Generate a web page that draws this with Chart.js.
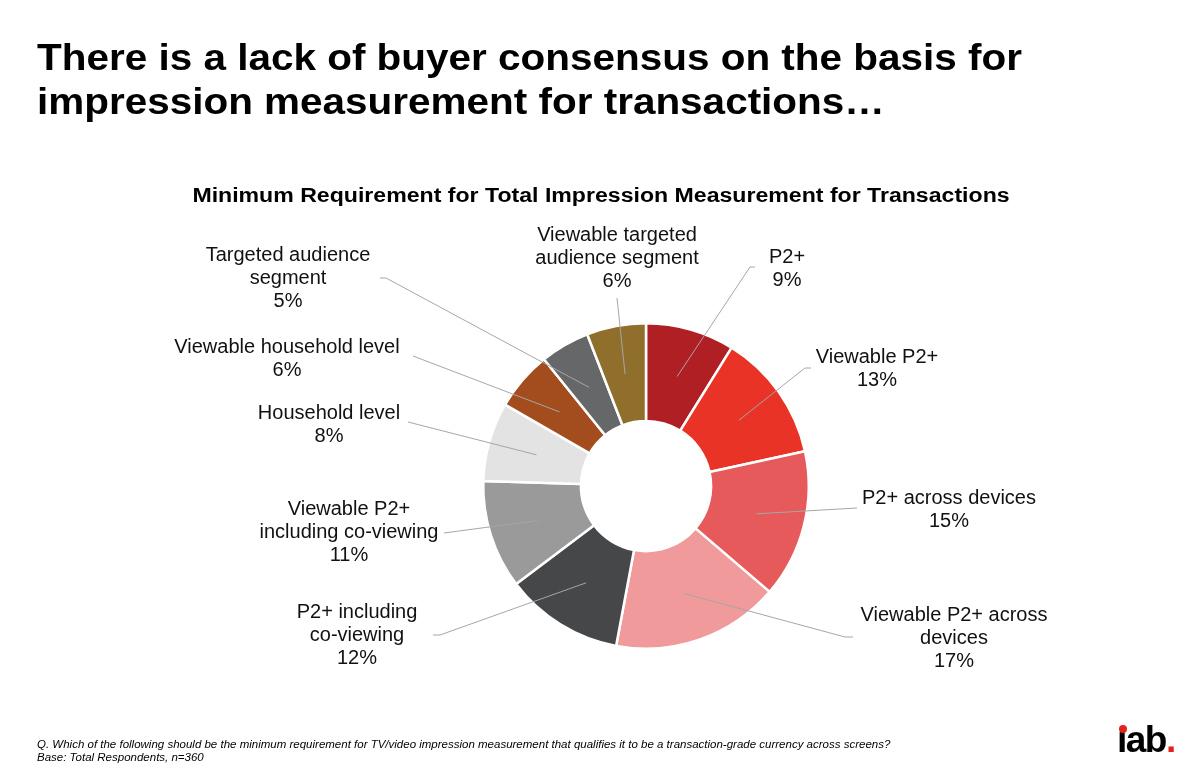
<!DOCTYPE html>
<html>
<head>
<meta charset="utf-8">
<script src="https://cdn.jsdelivr.net/npm/chart.js@4.4.1/dist/chart.umd.min.js"></script>
<style>
  html, body { margin: 0; padding: 0; background: #fff; }
  body { width: 1200px; height: 776px; position: relative; overflow: hidden;
         font-family: "Liberation Sans", Arial, sans-serif; color: #000; }
  .title { position: absolute; left: 37px; top: 36px; font-size: 36px; font-weight: bold;
           line-height: 44px; transform: scaleX(1.124); transform-origin: left top; white-space: nowrap; }
  .sub { position: absolute; left: 0; width: 1202px; top: 184px; text-align: center;
         font-size: 20px; font-weight: bold; transform: scaleX(1.155); transform-origin: 601px 0; }
  .note { position: absolute; left: 37px; top: 738px; font-size: 11.5px; font-style: italic; line-height: 13px; }
  .logo { position: absolute; left: 1117px; top: 719px; font-size: 37px; font-weight: bold;
          letter-spacing: -1.5px; line-height: 42px; }
  .logo .dot { color: #e2231a; }
  .logo .idot { position: absolute; left: 2px; top: 6px; width: 8px; height: 8px; border-radius: 50%; background: #e2231a; }
  #wrap { position: absolute; left: 0; top: 0; width: 1200px; height: 776px; }
</style>
</head>
<body>
<div id="wrap"><canvas id="pie"></canvas></div>
<div class="title">There is a lack of buyer consensus on the basis for<br>impression measurement for transactions…</div>
<div class="sub">Minimum Requirement for Total Impression Measurement for Transactions</div>
<div class="note">Q. Which of the following should be the minimum requirement for TV/video impression measurement that qualifies it to be a transaction-grade currency across screens?<br>Base: Total Respondents, n=360</div>
<div class="logo"><span class="idot"></span>ıab<span class="dot">.</span></div>

<script>
// ── 資料 ─────────────────────────────────────────────────────────────────────
const labels = [
  'P2+', 'Viewable P2+', 'P2+ across devices', 'Viewable P2+ across devices',
  'P2+ including co-viewing', 'Viewable P2+ including co-viewing', 'Household level',
  'Viewable household level', 'Targeted audience segment', 'Viewable targeted audience segment'
];
const values = [9, 13, 15, 17, 12, 11, 8, 6, 5, 6];
const colors = [
  '#b01f24', '#e83326', '#e65a5b', '#f19a9b', '#464749',
  '#9a9a9a', '#e3e3e3', '#a34d1f', '#666769', '#8f6f2b'
];

// 標籤文字的換行（與原圖相同）
const labelLines = [
  ['P2+'], ['Viewable P2+'], ['P2+ across devices'], ['Viewable P2+ across', 'devices'],
  ['P2+ including', 'co-viewing'], ['Viewable P2+', 'including co-viewing'], ['Household level'],
  ['Viewable household level'], ['Targeted audience', 'segment'], ['Viewable targeted', 'audience segment']
];

// ── 版面：標籤中心與引線起點 ─────────────────────────────────────────────────
const labelPos = [
  { x: 787, y: 257, lx: [755, 750], ly: 267 },
  { x: 877, y: 357, lx: [811, 805], ly: 368 },
  { x: 949, y: 498, lx: [857], ly: 508 },
  { x: 954, y: 615, lx: [853, 845], ly: 637 },
  { x: 357, y: 612, lx: [433, 440], ly: 635 },
  { x: 349, y: 509, lx: [444], ly: 533 },
  { x: 329, y: 413, lx: [408], ly: 422 },
  { x: 287, y: 347, lx: [413], ly: 356 },
  { x: 288, y: 255, lx: [380, 386], ly: 278 },
  { x: 617, y: 235, lx: [617], ly: 298 }
];

const leaderLabels = {
  id: 'leaderLabels',
  afterDatasetsDraw(chart) {
    const ctx = chart.ctx;
    const arcs = chart.getDatasetMeta(0).data;
    ctx.save();
    arcs.forEach((arc, i) => {
      const p = labelPos[i];
      const mid = arc.tooltipPosition();
      // 引線
      ctx.strokeStyle = '#a6a6a6';
      ctx.lineWidth = 1;
      ctx.beginPath();
      ctx.moveTo(p.lx[0], p.ly);
      p.lx.slice(1).forEach(x => ctx.lineTo(x, p.ly));
      ctx.lineTo(mid.x, mid.y);
      ctx.stroke();
      // 文字
      ctx.fillStyle = '#111';
      ctx.font = '20px "Liberation Sans", Arial, sans-serif';
      ctx.textAlign = 'center';
      ctx.textBaseline = 'middle';
      const lines = [...labelLines[i], values[i] + '%'];
      lines.forEach((t, k) => ctx.fillText(t, p.x, p.y + k * 23));
    });
    ctx.restore();
  }
};

new Chart(document.getElementById('pie'), {
  type: 'doughnut',
  data: {
    labels,
    datasets: [{
      data: values,
      backgroundColor: colors,
      borderColor: '#fff',
      borderWidth: 2.5
    }]
  },
  options: {
    responsive: true, maintainAspectRatio: false, animation: false,
    cutout: '40%',
    layout: { padding: { top: 322, bottom: 126, left: 482, right: 390 } },
    plugins: { legend: { display: false }, tooltip: { enabled: false } }
  },
  plugins: [leaderLabels]
});
</script>
</body>
</html>
